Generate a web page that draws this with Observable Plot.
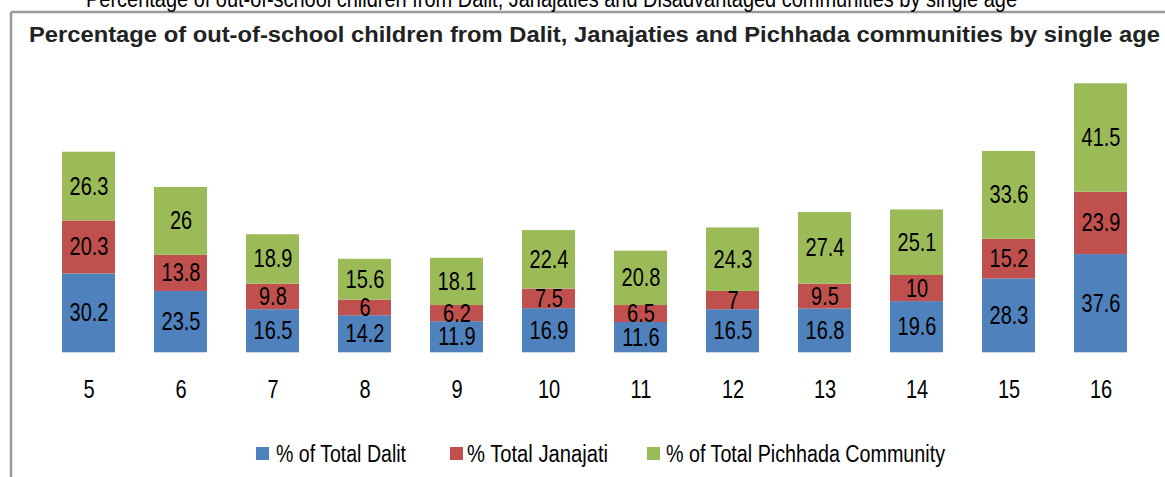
<!DOCTYPE html>
<html><head><meta charset="utf-8">
<script src="https://cdn.jsdelivr.net/npm/d3@7"></script>
<script src="https://cdn.jsdelivr.net/npm/@observablehq/plot@0.6"></script>
<style>
html,body{margin:0;padding:0;background:#fff;}
#wrap{position:relative;width:1165px;height:477px;overflow:hidden;font-family:"Liberation Sans",Arial,sans-serif;}
#wrap svg{position:absolute;left:0;top:0;}
</style></head><body><div id="wrap"></div>
<script>
// ---- data ----
const ages = [5, 6, 7, 8, 9, 10, 11, 12, 13, 14, 15, 16];
const dalit = [30.2, 23.5, 16.5, 14.2, 11.9, 16.9, 11.6, 16.5, 16.8, 19.6, 28.3, 37.6];
const janajati = [20.3, 13.8, 9.8, 6, 6.2, 7.5, 6.5, 7, 9.5, 10, 15.2, 23.9];
const pichhada = [26.3, 26, 18.9, 15.6, 18.1, 22.4, 20.8, 24.3, 27.4, 25.1, 33.6, 41.5];
const seriesNames = ["% of Total Dalit", "% Total Janajati", "% of Total Pichhada Community"];
const seriesColors = ["#4f81bd", "#c0504d", "#9bbb59"];
const outerTitle = "Percentage of out-of-school children from Dalit, Janajaties and Disadvantaged communities by single age";
const innerTitle = "Percentage of out-of-school children from Dalit, Janajaties and Pichhada communities by single age";

// ---- table ----
const seriesValues = [dalit, janajati, pichhada];
const rows = [];
ages.forEach((a, i) => seriesValues.forEach((arr, k) => rows.push({age: a, series: seriesNames[k], value: arr[i]})));

const FONT = '"Liberation Sans", Arial, sans-serif';
const S = 1.25; // vertical stretch of glyphs as in reference

const chart = Plot.plot({
  width: 1165, height: 477,
  marginLeft: 41, marginRight: 16.6, marginTop: 83.3, marginBottom: 124.7,
  style: {fontFamily: FONT, background: "transparent", overflow: "visible"},
  x: {type: "band", domain: ages, paddingInner: 0.426, paddingOuter: 0.213, axis: null},
  y: {domain: [0, 103], axis: null},
  color: {domain: seriesNames, range: seriesColors},
  marks: [
    Plot.barY(rows, {x: "age", y: "value", fill: "series"}),
    Plot.text(rows, Plot.stackY({x: "age", y: "value", z: "series", text: d => String(d.value), fontSize: 20, fill: "#000"})),
    Plot.text(ages, {x: d => d, frameAnchor: "bottom", dy: 45, text: d => String(d), fontSize: 20, fill: "#000"})
  ]
});
chart.querySelectorAll("text").forEach(t => {
  const tr = t.getAttribute("transform");
  if (tr) t.setAttribute("transform", tr + ` scale(1,${S})`);
  else {
    const x = +t.getAttribute("x") || 0, y = +t.getAttribute("y") || 0;
    t.setAttribute("x", 0); t.setAttribute("y", 0);
    t.setAttribute("transform", `translate(${x},${y}) scale(1,${S})`);
  }
});
const wrap = document.getElementById("wrap");
wrap.appendChild(chart);

// ---- overlay: titles, frame, legend ----
const ov = d3.create("svg").attr("width", 1165).attr("height", 477).style("font-family", FONT);
ov.append("line").attr("x1", 11).attr("x2", 1165).attr("y1", 12).attr("y2", 12).attr("stroke", "#9a9a9a").attr("stroke-width", 2.5);
ov.append("line").attr("x1", 11).attr("x2", 11).attr("y1", 12).attr("y2", 477).attr("stroke", "#9a9a9a").attr("stroke-width", 2.5);
ov.append("text").attr("transform", `translate(86,7) scale(1,1.3)`).attr("font-size", 19).attr("fill", "#000")
  .attr("textLength", 931).attr("lengthAdjust", "spacingAndGlyphs").text(outerTitle);
ov.append("text").attr("transform", "translate(29,42) scale(1,1.08)").attr("font-size", 21).attr("font-weight", "bold").attr("fill", "#222")
  .attr("textLength", 1131).attr("lengthAdjust", "spacingAndGlyphs").text(innerTitle);

const legSq = [256, 450, 647], legTx = [276, 467, 666], legLen = [130, 141, 279];
seriesNames.forEach((name, k) => {
  ov.append("rect").attr("x", legSq[k]).attr("y", 447).attr("width", 13).attr("height", 13).attr("fill", seriesColors[k]);
  ov.append("text").attr("transform", `translate(${legTx[k]},462) scale(1,1.3)`).attr("font-size", 19).attr("fill", "#000")
    .attr("textLength", legLen[k]).attr("lengthAdjust", "spacingAndGlyphs").text(name);
});
wrap.appendChild(ov.node());
</script>
</body></html>
